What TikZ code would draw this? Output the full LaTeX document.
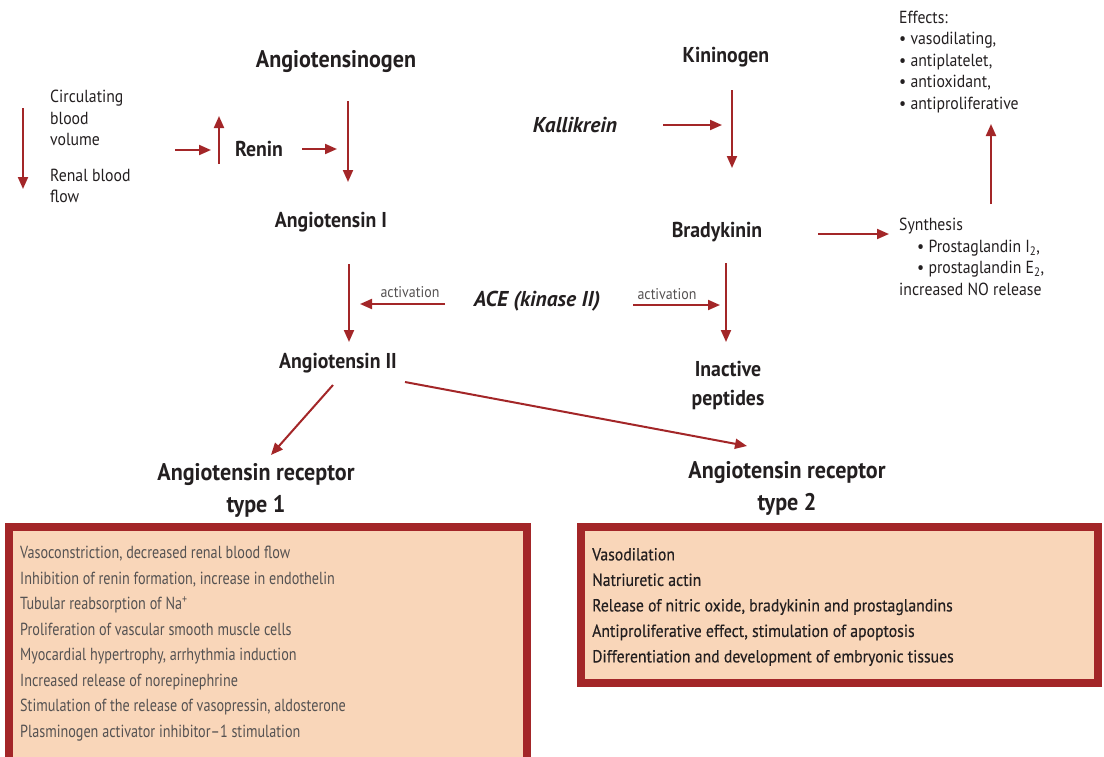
\documentclass[tikz,border=0pt]{standalone}
\usepackage{fontspec}
\setmainfont{PT Sans}[FakeStretch=0.9,
  BoldFeatures={FakeStretch=0.92},
  BoldItalicFeatures={FakeStretch=1.0}]
\usetikzlibrary{arrows.meta,positioning}
\definecolor{ras_red}{RGB}{163,38,40}
\definecolor{box_fill}{RGB}{249,214,185}
\definecolor{txt_dark}{RGB}{35,31,32}
\definecolor{txt_grey}{RGB}{85,82,82}

\tikzset{
  title/.style={font=\fontsize{24}{32}\selectfont\bfseries, text=txt_dark, align=center, inner sep=0pt},
  label/.style={font=\fontsize{21.5}{29}\selectfont\bfseries, text=txt_dark, align=center, inner sep=0pt},
  enzyme/.style={font=\fontsize{21.5}{24}\selectfont\bfseries\itshape, text=txt_dark, inner sep=0pt},
  note/.style={font=\fontsize{17.5}{21.5}\selectfont, text=txt_dark, align=left, inner sep=0pt},
  act/.style={font=\fontsize{15.5}{16}\selectfont, text=txt_grey, inner sep=0pt},
  flow/.style={-{Triangle[length=12pt,width=10pt]}, ras_red, line width=2pt},
  effectbox/.style={draw=ras_red, fill=box_fill, line width=8pt},
  boxtext/.style={align=left, inner sep=0pt}
}

\begin{document}
\begin{tikzpicture}[x=1pt, y=-1pt]
  \useasboundingbox (0,0) rectangle (1104,756);
  \clip (0,0) rectangle (1104,756);

  % renin-angiotensin side
  \node[title] (agen) at (336,62) {Angiotensinogen};
  \node[note, anchor=west] (volume) at (50,118) {Circulating\\blood\\volume};
  \node[note, anchor=west] (renal) at (50,186) {Renal blood\\flow};
  \node[label] (renin) at (259,149) {Renin};
  \node[label] (ang1) at (331,222) {Angiotensin I};
  \node[label] (ang2) at (338,363) {Angiotensin II};
  \node[title] (at1) at (256,490) {Angiotensin receptor\\type 1};
  \node[title] (at2) at (787,488) {Angiotensin receptor\\type 2};

  % kinin side
  \node[label] (kgen) at (726,57) {Kininogen};
  \node[enzyme] (kall) at (575,125) {Kallikrein};
  \node[label] (brady) at (717,232) {Bradykinin};
  \node[label] (inact) at (728,385) {Inactive\\peptides};
  \node[enzyme] (ace) at (537,301) {ACE (kinase II)};
  \node[act] (actL) at (410,292) {activation};
  \node[act] (actR) at (667,294) {activation};
  \node[note, anchor=west] (synth) at (899,257) {Synthesis\\
    \hspace*{18pt}• Prostaglandin I\textsubscript{2},\\
    \hspace*{18pt}• prostaglandin E\textsubscript{2},\\
    increased NO release};
  \node[note, anchor=west] (effects) at (899,62) {Effects:\\• vasodilating,\\• antiplatelet,\\• antioxidant,\\• antiproliferative};

  % arrow ends
  \coordinate (dn1) at (23,108);  \coordinate (dn2) at (23,189);
  \coordinate (r1) at (175,150);  \coordinate (r2) at (211,150);
  \coordinate (up1) at (219,164); \coordinate (up2) at (219,116);
  \coordinate (r3) at (302,149);  \coordinate (r4) at (337,149);

  \draw[flow] (dn1) -- (dn2);
  \draw[flow] (r1) -- (r2);
  \draw[flow] (up1) -- (up2);
  \draw[flow] (r3) -- (r4);
  \draw[flow] (348,101) -- (348,182);
  \draw[flow] (349,264) -- (349,342);
  \draw[flow] (445,304) -- (360,304);
  \draw[flow] (633,305) -- (720,305);
  \draw[flow] (663,125) -- (722,125);
  \draw[flow] (732,90) -- (732,168);
  \draw[flow] (726,263) -- (726,342);
  \draw[flow] (818,234) -- (889,234);
  \draw[flow] (991,204) -- (991,124);
  \draw[flow] (333,385) -- (271,455);
  \draw[flow] (405,382) -- (747,446);

  % receptor effects
  \draw[effectbox] (9,527) rectangle (527,772);
  \draw[effectbox] (581,527) rectangle (1098,683);
  \node[boxtext, text=txt_grey, anchor=west,
    font=\fontsize{17.5}{25.5}\selectfont\addfontfeatures{FakeStretch=0.81}]
    (eff1) at (20,643.5) {Vasoconstriction, decreased renal blood flow\\
    Inhibition of renin formation, increase in endothelin\\
    Tubular reabsorption of Na\textsuperscript{+}\\
    Proliferation of vascular smooth muscle cells\\
    Myocardial hypertrophy, arrhythmia induction\\
    Increased release of norepinephrine\\
    Stimulation of the release of vasopressin, aldosterone\\
    Plasminogen activator inhibitor--1 stimulation};
  \node[boxtext, text=txt_dark, anchor=west,
    font=\fontsize{17.5}{25.5}\selectfont\addfontfeatures{FakeBold=0.4}]
    (eff2) at (592,607) {Vasodilation\\
    Natriuretic actin\\
    Release of nitric oxide, bradykinin and prostaglandins\\
    Antiproliferative effect, stimulation of apoptosis\\
    Differentiation and development of embryonic tissues};
\end{tikzpicture}
\end{document}
